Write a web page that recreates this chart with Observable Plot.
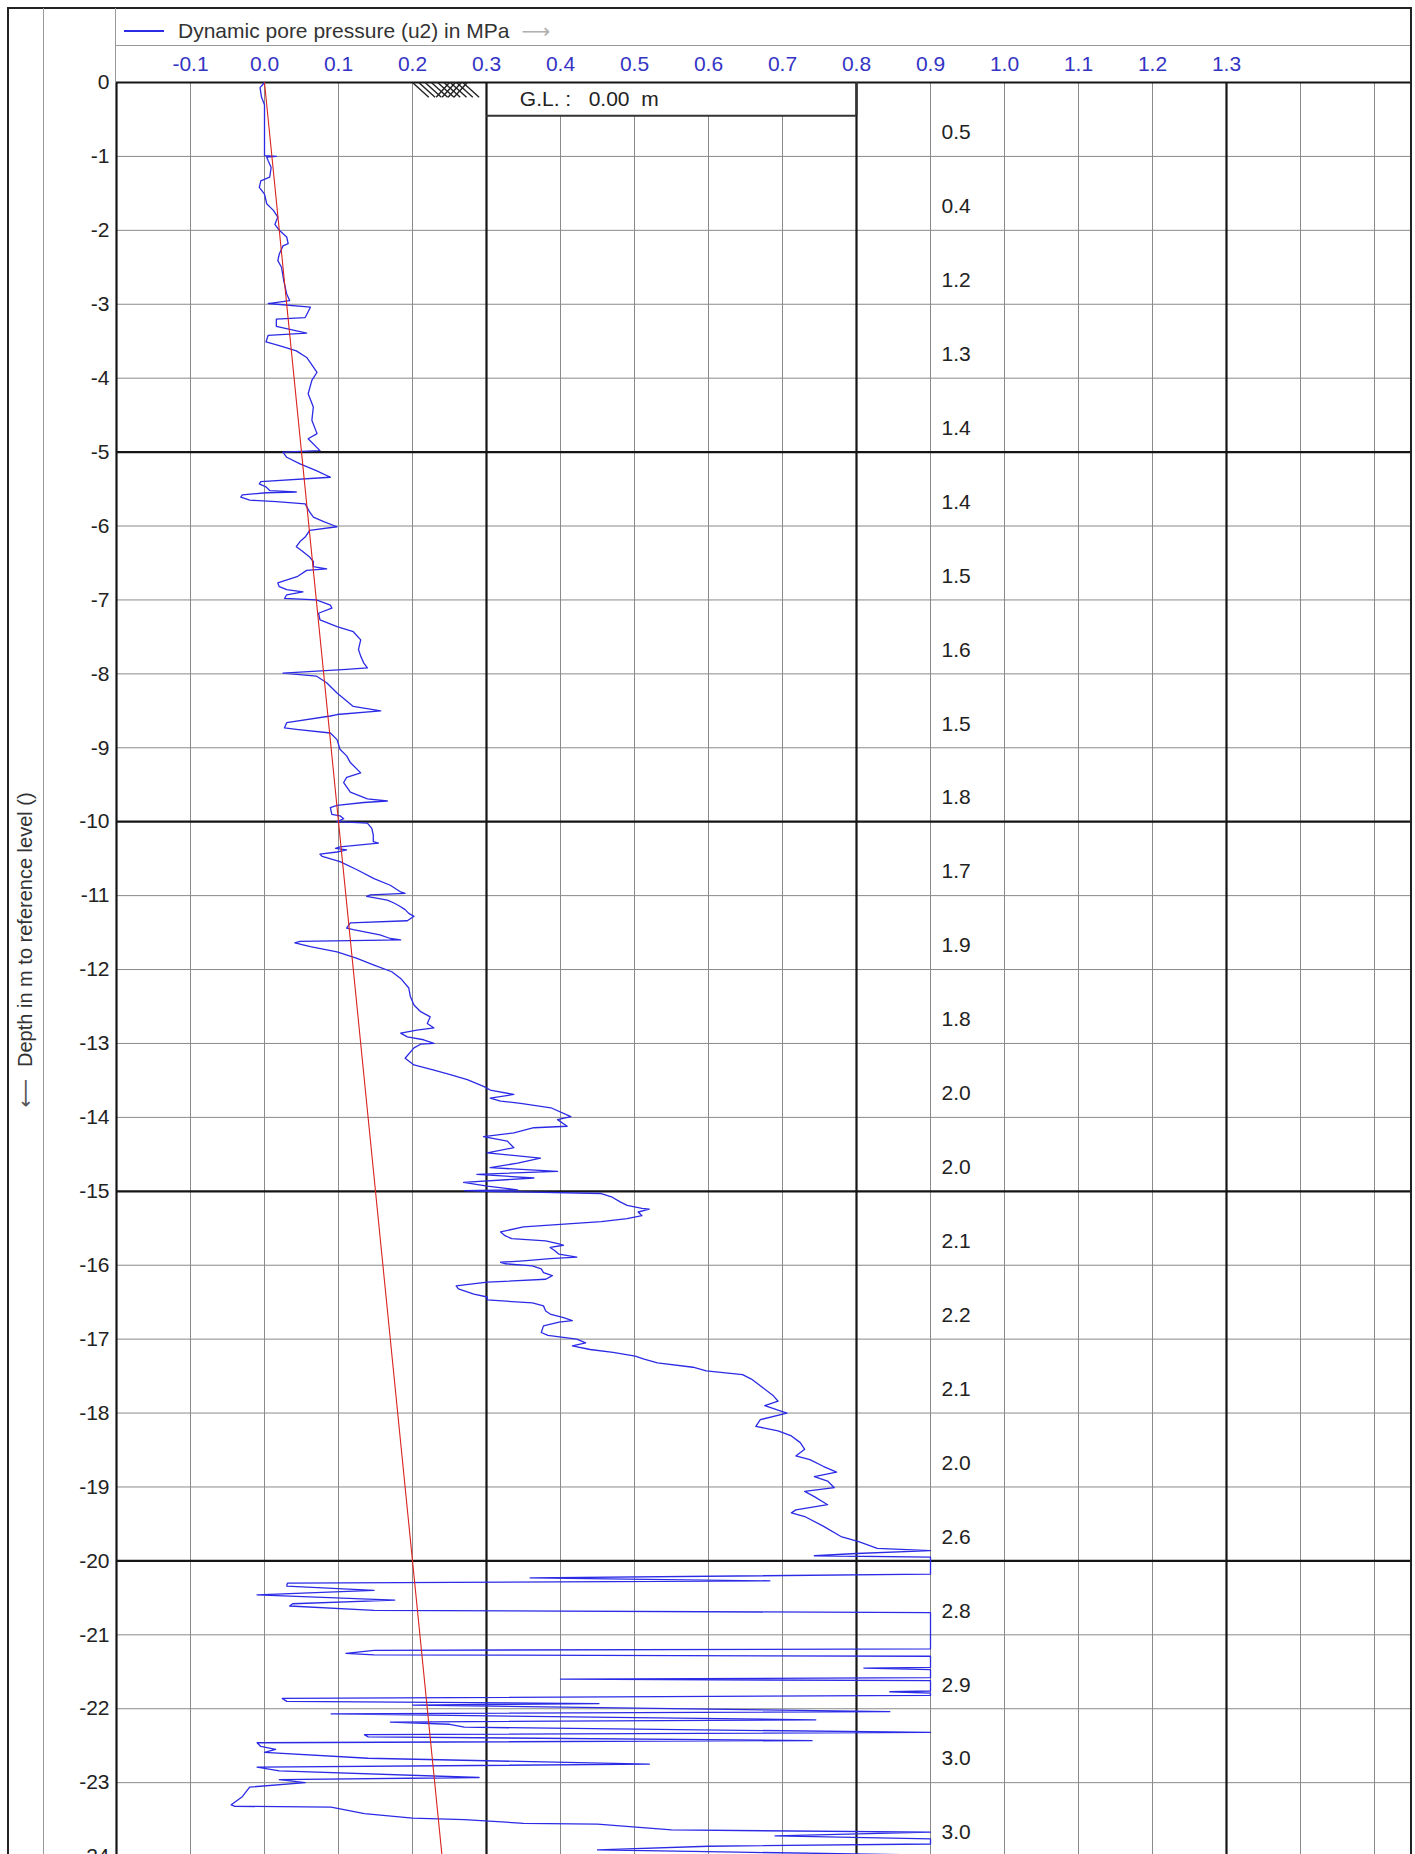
<!DOCTYPE html>
<html>
<head>
<meta charset="utf-8">
<script src="https://cdn.jsdelivr.net/npm/d3@7"></script>
<script src="https://cdn.jsdelivr.net/npm/@observablehq/plot@0.6"></script>
<style>
  html, body { margin:0; padding:0; background:#fff; }
  #page { position:relative; width:1415px; height:1854px; overflow:hidden; background:#fff;
          font-family:"Liberation Sans", Arial, Helvetica, sans-serif; }
  #chart { position:absolute; left:0; top:0; }
  .ln { position:absolute; }
  #legend { position:absolute; left:124px; top:18px; height:26px; display:flex; align-items:center;
            font-size:21px; color:#333; white-space:nowrap; }
  #legend .sw { width:40px; height:2px; background:#2b2be6; margin-right:14px; }
  #legend .arr { color:#b0b0b0; margin-left:12px; font-family:"DejaVu Sans", sans-serif; font-size:20px; }
  #ylab { position:absolute; left:25px; top:950px; transform:translate(-50%,-50%) rotate(-90deg);
          white-space:nowrap; font-size:20px; color:#333; }
  #ylab .arr { font-family:"DejaVu Sans", sans-serif; color:#555; margin-right:12px; }
</style>
</head>
<body>
<div id="page">
  <div id="chart"></div>
  <div class="ln" style="left:7px;top:7px;width:1405px;height:2px;background:#222"></div>
  <div class="ln" style="left:7px;top:7px;width:2px;height:1900px;background:#222"></div>
  <div class="ln" style="left:43px;top:8px;width:1px;height:1900px;background:#999"></div>
  <div class="ln" style="left:115px;top:8px;width:1px;height:75px;background:#999"></div>
  <div class="ln" style="left:116px;top:45px;width:1295px;height:1px;background:#999"></div>
  <div class="ln" style="left:1410px;top:7px;width:2px;height:1900px;background:#222"></div>
  <div id="legend"><span class="sw"></span><span>Dynamic pore pressure (u2) in MPa</span><span class="arr">&#x27F6;</span></div>
  <div id="ylab"><span class="arr">&#x27F5;</span>Depth in m to reference level ()</div>
</div>
<script>
// ---------- data ----------
const xTickLabels = [-0.1, 0.0, 0.1, 0.2, 0.3, 0.4, 0.5, 0.6, 0.7, 0.8, 0.9, 1.0, 1.1, 1.2, 1.3];
const depthTickLabels = [0, -1, -2, -3, -4, -5, -6, -7, -8, -9, -10, -11, -12, -13, -14, -15, -16, -17, -18, -19, -20, -21, -22, -23, -24];
// value written in the right-hand column, one per metre (0-1 m, 1-2 m, ...)
const layerValues = [0.5, 0.4, 1.2, 1.3, 1.4, 1.4, 1.5, 1.6, 1.5, 1.8, 1.7, 1.9, 1.8, 2.0, 2.0, 2.1, 2.2, 2.1, 2.0, 2.6, 2.8, 2.9, 3.0, 3.0];
const groundLevel = 0.00;
// hydrostatic pressure line: [depth m, MPa]
const hydrostatic = [[0, 0.0], [25, 0.25]];
// dynamic pore pressure u2: [depth m, MPa]
const u2Readings = [
  [0,0],[0.07,-0.006],[0.2,-0.004],[0.3,0],[0.99,0],[1.0,0.016],[1.01,0.003],[1.06,0.005],[1.15,0.009],[1.28,0.007],
  [1.33,-0.005],[1.42,-0.007],[1.51,0],[1.64,0.003],[1.73,0.012],[1.82,0.018],[1.92,0.014],[2.0,0.02],[2.09,0.03],[2.18,0.032],
  [2.21,0.025],[2.32,0.02],[2.41,0.018],[2.5,0.023],[2.68,0.026],[2.86,0.03],[2.95,0.034],[2.99,0.005],[3.04,0.062],[3.08,0.06],
  [3.18,0.055],[3.2,0.016],[3.3,0.016],[3.39,0.057],[3.42,0.005],[3.51,0.002],[3.56,0.02],[3.63,0.043],[3.72,0.057],[3.92,0.071],
  [4.03,0.064],[4.21,0.059],[4.39,0.066],[4.57,0.064],[4.75,0.071],[4.82,0.059],[4.98,0.075],[5.0,0.025],
  [5.07,0.030],[5.16,0.048],[5.25,0.070],[5.34,0.089],[5.40,-0.005],[5.43,-0.007],[5.47,0.002],[5.52,0.007],[5.54,0.043],[5.55,0.002],
  [5.58,-0.030],[5.61,-0.032],[5.65,-0.02],[5.67,0.016],[5.70,0.055],[5.81,0.061],[5.88,0.066],[5.94,0.08],[6.01,0.098],[6.06,0.061],
  [6.15,0.055],[6.21,0.048],[6.28,0.043],[6.33,0.050],[6.42,0.061],[6.48,0.066],[6.55,0.066],[6.58,0.084],[6.60,0.057],[6.68,0.045],
  [6.77,0.018],[6.82,0.02],[6.86,0.03],[6.89,0.052],[6.93,0.03],[6.98,0.027],[7.0,0.070],[7.07,0.089],[7.11,0.091],[7.18,0.073],
  [7.27,0.075],[7.36,0.098],[7.43,0.120],[7.54,0.130],[7.67,0.127],[7.76,0.130],[7.85,0.134],[7.92,0.139],[7.94,0.111],[7.99,0.025],
  [8.03,0.070],[8.12,0.084],[8.26,0.098],[8.44,0.120],[8.50,0.157],[8.55,0.098],[8.57,0.089],[8.66,0.030],[8.73,0.027],[8.75,0.043],
  [8.80,0.089],[8.89,0.098],[9.02,0.102],[9.11,0.111],[9.20,0.116],[9.34,0.130],[9.40,0.111],[9.47,0.107],[9.60,0.116],[9.69,0.139],
  [9.72,0.166],[9.74,0.134],[9.78,0.098],[9.81,0.089],[9.90,0.091],[9.92,0.102],[9.96,0.107],[10.0,0.098],
  [10.02,0.139],[10.09,0.145],[10.18,0.147],[10.27,0.147],[10.29,0.154],[10.34,0.102],[10.36,0.096],[10.38,0.111],[10.41,0.098],[10.44,0.075],
  [10.47,0.078],[10.54,0.102],[10.65,0.125],[10.77,0.148],[10.86,0.170],[10.95,0.184],[10.97,0.190],[10.99,0.143],[11.01,0.138],[11.06,0.166],
  [11.10,0.175],[11.15,0.184],[11.19,0.190],[11.24,0.195],[11.28,0.202],[11.34,0.193],[11.37,0.116],[11.44,0.111],[11.46,0.120],[11.53,0.156],
  [11.58,0.170],[11.60,0.184],[11.62,0.048],[11.64,0.041],[11.69,0.062],[11.76,0.098],[11.85,0.125],[11.94,0.148],[12.03,0.172],[12.12,0.184],
  [12.25,0.195],[12.36,0.197],[12.48,0.202],[12.57,0.211],[12.64,0.224],[12.73,0.220],[12.79,0.229],[12.82,0.206],[12.86,0.184],[12.91,0.193],
  [12.95,0.215],[13.00,0.229],[13.01,0.211],[13.06,0.202],[13.20,0.190],[13.29,0.202],[13.36,0.229],[13.42,0.251],[13.49,0.274],[13.58,0.296],
  [13.63,0.305],[13.69,0.337],[13.74,0.305],[13.78,0.319],[13.81,0.346],[13.87,0.387],[13.99,0.414],[14.03,0.396],[14.12,0.409],[14.14,0.364],
  [14.21,0.337],[14.26,0.296],[14.32,0.328],[14.41,0.337],[14.48,0.301],[14.55,0.373],[14.62,0.342],[14.68,0.305],[14.73,0.396],[14.77,0.287],
  [14.82,0.364],[14.88,0.269],[14.93,0.301],[14.98,0.342],[14.99,0.27],[15.0,0.30],
  [15.03,0.455],[15.08,0.470],[15.14,0.480],[15.19,0.490],[15.23,0.510],[15.24,0.520],[15.28,0.505],[15.33,0.510],[15.37,0.490],[15.41,0.455],
  [15.44,0.410],[15.48,0.350],[15.55,0.319],[15.60,0.325],[15.64,0.334],[15.67,0.380],[15.71,0.398],[15.73,0.404],[15.76,0.386],[15.80,0.392],
  [15.85,0.398],[15.89,0.422],[15.91,0.386],[15.94,0.350],[15.96,0.319],[15.98,0.325],[16.01,0.362],[16.05,0.374],[16.10,0.377],[16.14,0.389],
  [16.19,0.380],[16.23,0.301],[16.28,0.259],[16.32,0.262],[16.39,0.283],[16.43,0.301],[16.47,0.301],[16.51,0.362],[16.55,0.377],[16.62,0.380],
  [16.66,0.386],[16.71,0.404],[16.75,0.416],[16.77,0.398],[16.82,0.377],[16.91,0.374],[16.95,0.383],[17.00,0.422],[17.05,0.434],[17.09,0.416],
  [17.14,0.440],[17.18,0.471],[17.23,0.501],[17.27,0.513],[17.32,0.531],[17.38,0.579],[17.43,0.597],[17.48,0.646],[17.54,0.658],[17.63,0.670],
  [17.77,0.688],[17.84,0.694],[17.90,0.676],[18.00,0.706],[18.09,0.670],[18.18,0.664],[18.24,0.694],[18.31,0.712],[18.40,0.724],[18.49,0.730],
  [18.58,0.718],[18.63,0.737],[18.72,0.755],[18.80,0.773],[18.86,0.743],[18.92,0.761],[19.01,0.770],[19.06,0.730],[19.13,0.743],[19.24,0.761],
  [19.31,0.718],[19.35,0.712],[19.40,0.730],[19.53,0.755],[19.67,0.779],[19.74,0.803],[19.83,0.828],[19.86,0.900],[19.90,0.800],[19.93,0.743],
  [19.95,0.900],[20.0,0.900],
  [20.18,0.9],[20.23,0.359],[20.27,0.683],[20.30,0.031],[20.34,0.03],[20.40,0.148],[20.46,-0.01],[20.53,0.176],[20.58,0.038],[20.61,0.034],
  [20.67,0.148],[20.70,0.9],[21.19,0.9],[21.21,0.148],[21.25,0.11],[21.27,0.148],[21.29,0.9],[21.44,0.9],[21.45,0.81],[21.47,0.9],
  [21.58,0.9],[21.60,0.4],[21.62,0.9],[21.76,0.9],[21.77,0.845],[21.79,0.9],[21.82,0.9],[21.86,0.024],[21.90,0.03],[21.93,0.452],
  [21.95,0.2],[22.04,0.845],[22.07,0.09],[22.15,0.745],[22.18,0.17],[22.21,0.25],[22.25,0.27],[22.32,0.9],[22.35,0.135],[22.38,0.14],
  [22.43,0.74],[22.46,-0.01],[22.51,-0.005],[22.55,0.015],[22.59,0.0],[22.67,0.14],[22.75,0.52],[22.79,-0.01],[22.84,0.02],[22.93,0.29],
  [22.96,0.02],[23.0,0.055],[23.06,-0.02],[23.19,-0.03],[23.30,-0.045],[23.32,-0.04],[23.33,0.09],[23.42,0.135],[23.48,0.2],[23.50,0.27],
  [23.55,0.35],[23.56,0.45],[23.64,0.55],[23.67,0.9],[23.72,0.69],[23.76,0.9],[23.83,0.9],[23.86,0.6],[23.91,0.45],[23.94,0.64],
  [23.98,0.9],[24.2,0.9]
];

// ---------- layout / style ----------
const BLUE = "#2b2be6", TICKBLUE = "#3434c4", RED = "#d9231c", GRID = "#8a8a8a", DARK = "#151515";
const FONT = "Liberation Sans, Arial, Helvetica, sans-serif";
const thickX = [-0.2, 0.3, 0.8, 1.3];
const thinX = d3.range(-1, 16).map(i => i / 10).filter(v => !thickX.some(t => Math.abs(t - v) < 1e-9));
const thickY = [0, -5, -10, -15, -20, -25];
const thinY = d3.range(-1, -26, -1).filter(v => v % 5 !== 0);
const glBox = [{x1: 0.3, x2: 0.8, y1: 0, y2: -0.45}];
const glText = [`G.L. :\u00a0\u00a0 ${groundLevel.toFixed(2)}\u00a0\u00a0m`];
const hatch = d3.range(0, 9).map(k => ({x1: 0.2 + k * 0.0085, y1: 0, x2: 0.222 + k * 0.0085, y2: -0.2}))
  .concat(d3.range(0, 4).map(k => ({x1: 0.232 + k * 0.008, y1: -0.2, x2: 0.25 + k * 0.008, y2: 0})));

const chart = Plot.plot({
  width: 1415, height: 1930,
  marginLeft: 116, marginRight: 4, marginTop: 82, marginBottom: 0,
  x: {domain: [-0.2, 1.55]},
  y: {domain: [-25, 0]},
  style: {fontFamily: FONT, background: "transparent", overflow: "visible"},
  marks: [
    Plot.ruleX(thinX, {stroke: GRID, strokeWidth: 1}),
    Plot.ruleY(thinY, {stroke: GRID, strokeWidth: 1}),
    Plot.rect(glBox, {x1: "x1", x2: "x2", y1: "y1", y2: "y2", fill: "white"}),
    Plot.ruleX(thickX, {stroke: DARK, strokeWidth: 2.2}),
    Plot.ruleY(thickY, {stroke: DARK, strokeWidth: 2.2}),
    Plot.ruleY(glBox, {y: "y2", x1: "x1", x2: "x2", stroke: "#333", strokeWidth: 2.2}),
    Plot.ruleX(glBox, {x: "x2", y1: "y1", y2: "y2", stroke: "#333", strokeWidth: 2.2}),
    Plot.text(glText, {x: () => 0.345, y: () => -0.225, text: d => d, textAnchor: "start", fontSize: 21, fill: "#222"}),
    Plot.link(hatch, {x1: "x1", y1: "y1", x2: "x2", y2: "y2", stroke: "#222", strokeWidth: 1.4}),
    Plot.line(u2Readings, {x: d => d[1], y: d => -d[0], stroke: BLUE, strokeWidth: 1.3}),
    Plot.line(hydrostatic, {x: d => d[1], y: d => -d[0], stroke: RED, strokeWidth: 1.1}),
    Plot.text(layerValues, {x: () => 0.915, y: (d, i) => -(i + 0.5), dy: 13, text: d => d.toFixed(1),
      textAnchor: "start", fontSize: 21, fill: "#222"}),
    Plot.axisX(xTickLabels, {anchor: "top", tickSize: 0, tickPadding: 12, fontSize: 21, fill: TICKBLUE,
      tickFormat: d => d.toFixed(1), label: null}),
    Plot.axisY(depthTickLabels, {anchor: "left", tickSize: 0, tickPadding: 7, fontSize: 21, fill: "#222",
      tickFormat: d => String(d), label: null})
  ]
});
document.getElementById("chart").appendChild(chart);
</script>
</body>
</html>
